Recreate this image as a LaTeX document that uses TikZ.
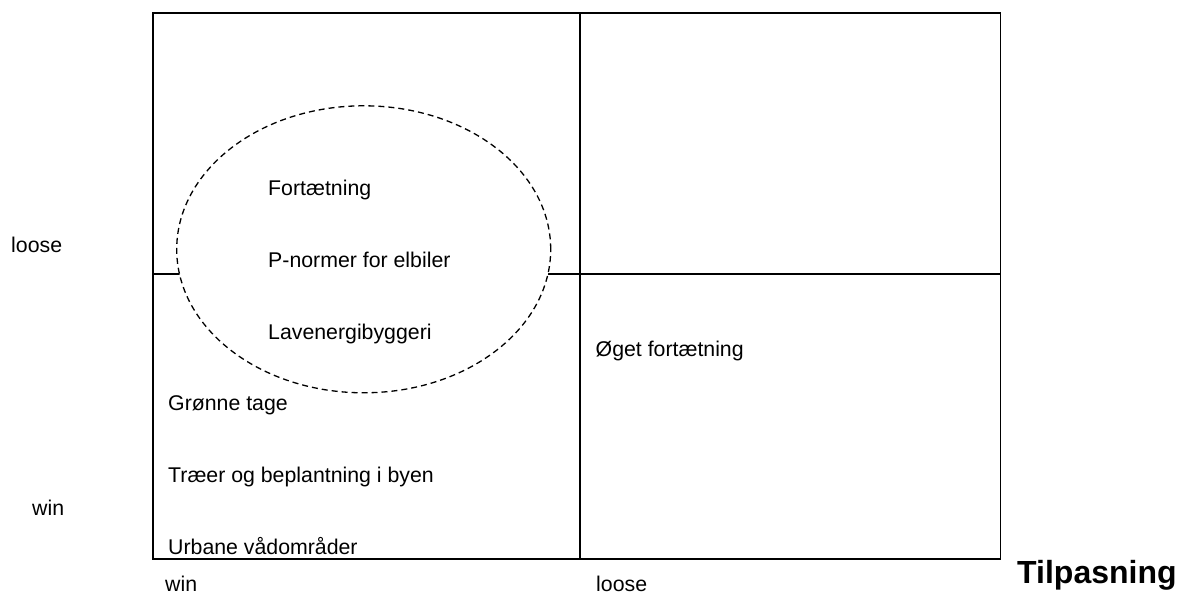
\documentclass[tikz,border=0pt]{standalone}
\usepackage{fontspec}
\setmainfont{Liberation Sans}
\usetikzlibrary{shapes.geometric, positioning}

\begin{document}
\begin{tikzpicture}[
  x=1pt, y=-1pt,
  frame/.style = {draw, line width=1.8pt},
  item/.style = {anchor=base west, inner sep=0pt, font=\fontsize{21.3}{25}\selectfont},
  title/.style = {anchor=base west, inner sep=0pt, font=\fontsize{32}{36}\selectfont\bfseries},
  cluster/.style = {ellipse, draw, fill=white, dash pattern=on 6pt off 4pt, line width=1.3pt,
                    minimum width=374pt, minimum height=287pt, inner sep=0pt}
]
  \useasboundingbox (0,0) rectangle (1177,594);

  % Quadrants
  \coordinate (nw) at (153,13);
  \coordinate (se) at (1000.5,559.3);
  \coordinate (midtop) at (580,13);
  \coordinate (midbottom) at (580,559.3);
  \coordinate (midleft) at (153,274);
  \coordinate (midright) at (1000.5,274);
  \draw[frame] (nw) rectangle (se);
  \draw[frame] (midtop) -- (midbottom);
  \draw[frame] (midleft) -- (midright);

  % Dashed cluster over the left half
  \node[cluster] (cluster) at (363.7,249.3) {};

  % Inside the cluster
  \node[item] (fort) at (268,195) {Fortætning};
  \node[item, below=72pt of fort.base west, anchor=base west] (pnorm) {P-normer for elbiler};
  \node[item, below=72pt of pnorm.base west, anchor=base west] (lavenergi) {Lavenergibyggeri};

  % Win-win quadrant
  \node[item] (groenne) at (168,410) {Grønne tage};
  \node[item, below=72pt of groenne.base west, anchor=base west] (traeer) {Træer og beplantning i byen};
  \node[item, below=72pt of traeer.base west, anchor=base west] (urbane) {Urbane vådområder};

  % Win-loose quadrant
  \node[item] (oeget) at (595.5,356) {Øget fortætning};

  % Axis labels
  \node[item] (yloose) at (11,252) {loose};
  \node[item] (ywin) at (32,515) {win};
  \node[item] (xwin) at (165,591) {win};
  \node[item] (xloose) at (596,591) {loose};
  \node[title] (tilpasning) at (1017,583.5) {Tilpasning};

\end{tikzpicture}
\end{document}
